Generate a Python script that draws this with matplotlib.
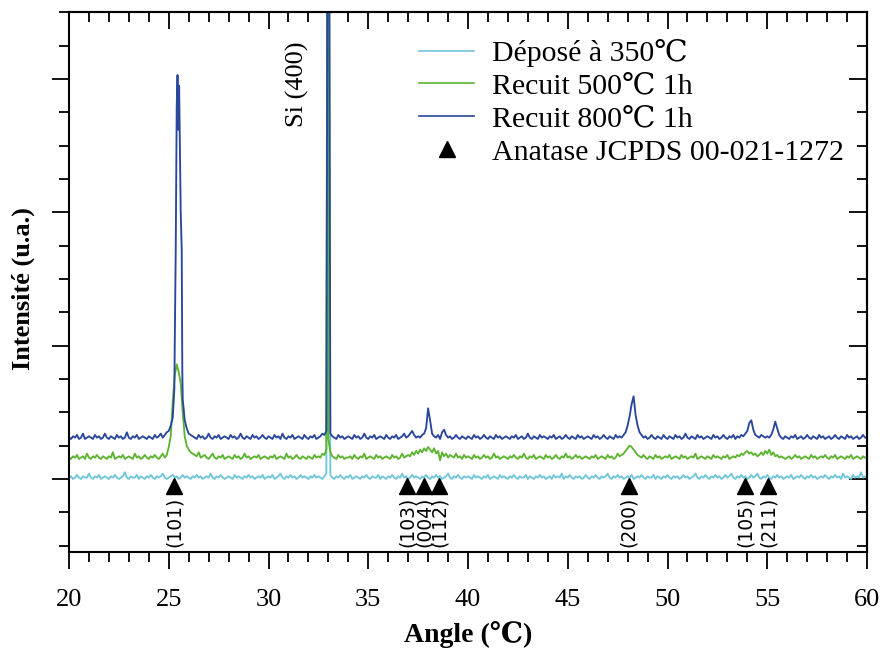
import numpy as np
import matplotlib
matplotlib.use("Agg")
import matplotlib.pyplot as plt
from matplotlib.ticker import MultipleLocator, NullFormatter
from matplotlib.lines import Line2D
import matplotlib.transforms as mtransforms

plt.rcParams['font.family'] = ['Liberation Serif', 'DejaVu Serif', 'DejaVu Sans']

# ---- XRD scans: intensity (counts, offset per sample) on a 0.1 deg grid, 20..60 deg ----
angle_start = 20.0
angle_step = 0.1

depose_350 = [
    1, 2, 0, 1, 3, 1, 0, 2, 1, 1, 4, 1, 0, 2, 1, 3, 0, 1, 2, 1,
    0, 2, 1, 3, 1, 0, 1, 2, 5, 1, 0, 2, 1, 1, 3, 0, 2, 1, 0, 2,
    1, 3, 1, 0, 2, 1, 2, 4, 1, 0, 1, 2, 3, 1, 2, 0, 1, 3, 1, 2,
    1, 0, 2, 1, 3, 1, 2, 0, 1, 2, 1, 4, 1, 0, 2, 1, 3, 1, 0, 1,
    2, 1, 0, 3, 1, 2, 1, 0, 2, 1, 3, 1, 2, 0, 1, 2, 1, 3, 0, 1,
    2, 1, 3, 0, 1, 2, 4, 1, 0, 2, 1, 3, 1, 2, 0, 1, 3, 1, 2, 1,
    0, 2, 1, 3, 1, 2, 1, 0, 2, 4, 700, 3, 1, 0, 2, 1, 3, 1, 0, 2,
    1, 3, 0, 1, 2, 1, 0, 2, 1, 3, 1, 0, 2, 1, 1, 3, 0, 2, 1, 0,
    2, 1, 3, 1, 0, 2, 1, 4, 1, 2, 0, 1, 3, 1, 2, 1, 0, 2, 1, 3,
    1, 0, 2, 1, 3, 1, 2, 0, 1, 2, 4, 1, 0, 2, 1, 3, 1, 0, 2, 1,
    2, 1, 0, 3, 1, 2, 1, 0, 2, 1, 3, 0, 1, 2, 1, 0, 3, 1, 2, 1,
    0, 2, 1, 3, 1, 0, 2, 1, 1, 3, 0, 2, 1, 0, 2, 1, 3, 1, 2, 0,
    1, 2, 0, 3, 1, 2, 1, 4, 0, 2, 1, 3, 1, 0, 2, 1, 2, 0, 1, 3,
    1, 0, 2, 1, 3, 1, 0, 2, 1, 2, 4, 1, 0, 2, 1, 3, 1, 2, 0, 1,
    2, 1, 3, 0, 1, 2, 1, 3, 1, 0, 2, 1, 1, 3, 0, 2, 1, 0, 2, 1,
    3, 1, 0, 2, 1, 2, 0, 1, 3, 1, 2, 0, 1, 2, 4, 1, 0, 2, 1, 3,
    1, 0, 2, 1, 3, 1, 2, 0, 1, 3, 1, 2, 4, 1, 0, 2, 1, 3, 1, 2,
    0, 1, 3, 1, 2, 4, 1, 0, 2, 1, 3, 1, 0, 2, 1, 3, 1, 2, 0, 1,
    2, 1, 3, 0, 1, 2, 1, 3, 1, 0, 2, 1, 3, 1, 2, 0, 1, 2, 1, 3,
    1, 0, 2, 1, 3, 1, 2, 0, 4, 1, 2, 1, 0, 3, 1, 2, 1, 5, 1, 2,
    1,
]

recuit_500 = [
    16, 15, 17, 16, 18, 15, 16, 17, 15, 19, 16, 15, 17, 16, 18, 16, 15, 17, 16, 15,
    17, 16, 20, 15, 16, 17, 16, 18, 15, 16, 17, 16, 15, 19, 16, 17, 15, 16, 18, 16,
    15, 17, 16, 18, 16, 15, 17, 19, 16, 18, 24, 32, 58, 78, 86, 80, 72, 50, 32, 25,
    22, 20, 19, 18, 17, 20, 16, 17, 18, 16, 15, 17, 19, 16, 15, 17, 16, 18, 15, 16,
    17, 16, 15, 18, 16, 17, 15, 16, 19, 16, 17, 15, 16, 17, 16, 18, 15, 16, 17, 16,
    15, 17, 16, 18, 15, 16, 17, 16, 15, 19, 16, 17, 15, 16, 18, 16, 15, 17, 16, 15,
    17, 16, 15, 18, 16, 17, 16, 19, 18, 22, 30, 20, 17, 16, 15, 18, 16, 17, 15, 16,
    16, 17, 15, 18, 16, 15, 17, 16, 19, 15, 16, 17, 16, 15, 18, 16, 17, 15, 16, 17,
    16, 15, 18, 16, 17, 15, 16, 19, 16, 17, 18, 17, 20, 18, 21, 19, 22, 20, 23, 21,
    24, 22, 20, 23, 19, 21, 14, 20, 17, 19, 16, 18, 17, 16, 19, 16, 17, 15, 18, 16,
    17, 16, 15, 18, 16, 17, 15, 16, 18, 16, 17, 15, 16, 19, 16, 17, 15, 16, 17, 16,
    15, 17, 16, 18, 16, 15, 17, 16, 19, 16, 15, 17, 16, 18, 15, 16, 17, 16, 15, 18,
    16, 17, 15, 16, 18, 16, 15, 17, 16, 19, 16, 17, 15, 16, 18, 16, 17, 15, 16, 17,
    16, 15, 17, 16, 18, 15, 16, 17, 16, 15, 18, 16, 17, 15, 16, 19, 17, 18, 19, 21,
    23, 25, 24, 22, 20, 18, 17, 16, 18, 16, 15, 17, 16, 15, 18, 16, 17, 15, 16, 17,
    16, 18, 15, 16, 17, 16, 15, 18, 16, 17, 15, 16, 17, 16, 19, 15, 16, 17, 16, 15,
    17, 16, 15, 18, 16, 17, 16, 15, 17, 16, 18, 15, 16, 17, 16, 18, 17, 19, 18, 20,
    21, 19, 20, 18, 19, 17, 18, 20, 18, 21, 19, 22, 18, 20, 17, 18, 16, 17, 16, 15,
    16, 17, 15, 16, 18, 16, 17, 15, 16, 17, 16, 15, 18, 16, 17, 15, 16, 17, 16, 18,
    16, 15, 17, 16, 18, 15, 16, 17, 16, 15, 17, 16, 18, 15, 16, 17, 16, 15, 17, 16,
    16,
]

recuit_800 = [
    31, 30, 32, 31, 33, 30, 31, 34, 30, 31, 32, 31, 30, 33, 31, 32, 30, 31, 34, 31,
    30, 32, 31, 30, 33, 31, 32, 30, 31, 35, 31, 30, 32, 31, 33, 30, 31, 32, 31, 30,
    32, 31, 30, 33, 31, 32, 34, 31, 33, 35, 36, 40, 46, 100, 280, 270, 200, 60, 44, 38,
    34, 33, 32, 31, 30, 33, 31, 32, 30, 31, 34, 31, 30, 32, 31, 33, 30, 31, 32, 31,
    30, 33, 31, 32, 30, 31, 34, 31, 30, 32, 31, 30, 33, 31, 32, 30, 31, 33, 31, 30,
    32, 31, 30, 33, 31, 32, 30, 34, 31, 30, 32, 31, 33, 30, 31, 32, 31, 30, 33, 31,
    30, 32, 31, 33, 30, 31, 32, 34, 33, 36, 700, 34, 32, 31, 30, 33, 31, 32, 30, 31,
    32, 31, 30, 33, 31, 32, 30, 31, 34, 31, 30, 32, 31, 33, 30, 31, 32, 31, 30, 33,
    31, 30, 32, 31, 33, 30, 31, 32, 34, 31, 32, 34, 36, 33, 31, 32, 31, 33, 34, 38,
    53, 44, 34, 32, 31, 33, 30, 35, 37, 33, 31, 32, 30, 31, 33, 31, 30, 32, 31, 30,
    32, 31, 30, 33, 31, 32, 30, 31, 33, 31, 30, 32, 31, 30, 33, 31, 32, 30, 31, 32,
    31, 30, 32, 31, 33, 30, 31, 32, 30, 31, 34, 31, 30, 32, 31, 30, 33, 31, 32, 31,
    30, 32, 31, 33, 30, 31, 32, 30, 31, 33, 31, 30, 32, 31, 30, 33, 31, 32, 30, 31,
    32, 31, 30, 33, 31, 32, 30, 31, 33, 31, 30, 32, 31, 30, 33, 31, 32, 31, 33, 35,
    40, 47, 56, 62, 48, 40, 35, 33, 31, 32, 30, 31, 33, 31, 30, 32, 31, 30, 33, 31,
    30, 32, 31, 30, 33, 31, 32, 30, 31, 34, 31, 30, 32, 31, 30, 33, 31, 32, 30, 31,
    32, 31, 30, 33, 31, 32, 30, 31, 33, 31, 30, 32, 31, 33, 30, 32, 31, 33, 32, 34,
    36, 42, 44, 37, 33, 32, 31, 33, 32, 31, 32, 31, 33, 37, 43, 38, 33, 31, 30, 32,
    31, 30, 32, 31, 33, 30, 31, 32, 30, 31, 33, 31, 30, 32, 31, 30, 33, 31, 32, 30,
    31, 32, 30, 31, 33, 31, 30, 32, 31, 30, 33, 31, 32, 30, 31, 32, 30, 31, 33, 31,
    31,
]

# finer sampling around the sharp reflections
recuit_500_fine_angles = [32.98]
recuit_500_fine_counts = [700]
recuit_800_fine_angles = [25.28, 25.35, 25.44, 25.48, 25.52, 25.56, 25.65, 25.68]
recuit_800_fine_counts = [67, 172, 303, 262, 295, 250, 172, 80]

# anatase reference reflections (JCPDS 00-021-1272)
anatase_angles = [25.28, 36.95, 37.80, 38.57, 48.05, 53.89, 55.06]
anatase_hkl = ["(101)", "(103)", "(004)", "(112)", "(200)", "(105)", "(211)"]

series_labels = ["Déposé à 350℃", "Recuit 500℃ 1h", "Recuit 800℃ 1h"]
series_colors = ["#72C6DA", "#5DB431", "#2A479C"]


def scan(counts, fine_angles=(), fine_counts=()):
    grid = angle_start + angle_step * np.arange(len(counts))
    ang = np.concatenate([grid, np.asarray(fine_angles, float)])
    val = np.concatenate([np.asarray(counts, float), np.asarray(fine_counts, float)])
    order = np.argsort(ang, kind="stable")
    return ang[order], val[order]


scans = [
    scan(depose_350),
    scan(recuit_500, recuit_500_fine_angles, recuit_500_fine_counts),
    scan(recuit_800, recuit_800_fine_angles, recuit_800_fine_counts),
]

fig = plt.figure(figsize=(8.83, 6.53), dpi=100)
ax = fig.add_axes([69 / 883, 1 - 552 / 653, 798 / 883, 540 / 653])

for (a, c), col, lab in zip(scans, series_colors, series_labels):
    ax.plot(a, c, color=col, lw=1.35, label=lab, zorder=2)

# reference markers sit just under the zero line
shift = mtransforms.ScaledTranslation(0, -7 / 100, fig.dpi_scale_trans)
ax.plot(anatase_angles, np.zeros(len(anatase_angles)), ls="none", marker="^",
        ms=12, color="black", transform=ax.transData + shift, zorder=5)
for ang, hkl in zip(anatase_angles, anatase_hkl):
    ax.annotate(hkl, xy=(ang, 0), xytext=(0, -13), textcoords="offset points",
                rotation=90, ha="center", va="top", fontsize=13.5,
                family=["DejaVu Sans"], zorder=5)

ax.text(31.45, 328, "Si (400)", rotation=90, ha="center", va="top", fontsize=19)

ax.set_xlim(20, 60)
ax.set_ylim(-54.8, 350.3)

ax.xaxis.set_major_locator(MultipleLocator(5))
ax.xaxis.set_minor_locator(MultipleLocator(1))
ax.yaxis.set_major_locator(MultipleLocator(100))
ax.yaxis.set_minor_locator(MultipleLocator(25))
ax.yaxis.set_major_formatter(NullFormatter())
ax.tick_params(which="both", direction="out", width=1.3, top=False, right=False)
ax.tick_params(which="major", length=12)
ax.tick_params(which="minor", length=7)
ax.tick_params(axis="x", labelsize=19, pad=15)
for sp in ax.spines.values():
    sp.set_linewidth(1.5)

# top and right frames carry inward ticks
axt = ax.secondary_xaxis("top")
axt.xaxis.set_major_locator(MultipleLocator(5))
axt.xaxis.set_minor_locator(MultipleLocator(1))
axt.tick_params(which="both", direction="in", width=1.3, labeltop=False)
axt.tick_params(which="major", length=12)
axt.tick_params(which="minor", length=7)
axt.spines["top"].set_linewidth(1.5)

axr = ax.secondary_yaxis("right")
axr.yaxis.set_major_locator(MultipleLocator(100))
axr.yaxis.set_minor_locator(MultipleLocator(25))
axr.tick_params(which="both", direction="in", width=1.3, labelright=False)
axr.tick_params(which="major", length=13)
axr.tick_params(which="minor", length=7)
axr.spines["right"].set_linewidth(1.5)

ax.set_xlabel("Angle (℃)", fontsize=20, fontweight="bold")
ax.xaxis.set_label_coords(0.5, -0.128)
ax.set_ylabel("Intensité (u.a.)", fontsize=19, fontweight="bold")
ax.yaxis.set_label_coords(-0.042, 0.487)

handles = [Line2D([], [], color=c, lw=1.2) for c in series_colors]
handles.append(Line2D([], [], ls="none", marker="^", ms=11, color="black"))
labels = series_labels + ["Anatase JCPDS 00-021-1272"]
ax.legend(handles, labels, loc="upper left", bbox_to_anchor=(0.4386, 0.95),
          frameon=False, fontsize=21.5, borderpad=0, borderaxespad=0,
          handlelength=1.85, handletextpad=0.6, labelspacing=0.2)

fig.savefig("out.png", dpi=100)
